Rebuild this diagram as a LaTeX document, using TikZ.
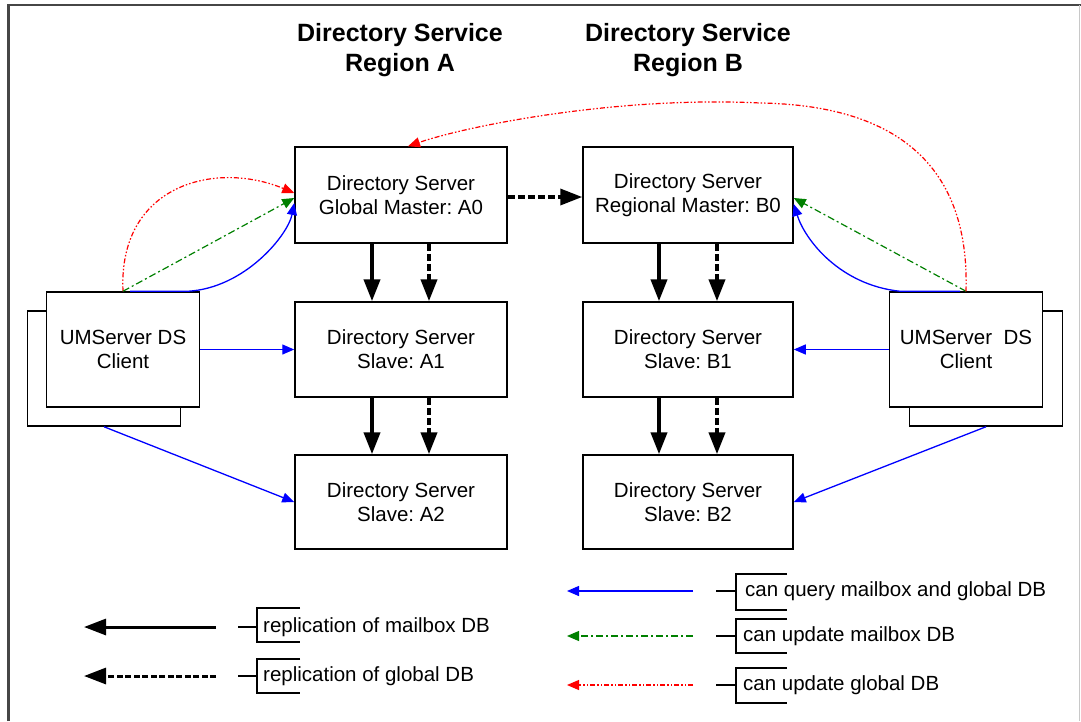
\documentclass[tikz,border=0pt]{standalone}
\usepackage{fontspec}
\setmainfont{Liberation Sans}
\usetikzlibrary{arrows.meta}
\definecolor{qblue}{RGB}{0,0,255}
\definecolor{ugreen}{RGB}{0,128,0}
\definecolor{ured}{RGB}{255,0,0}
\definecolor{framedark}{RGB}{70,70,70}
\definecolor{framelight}{RGB}{200,200,200}
\frenchspacing
\begin{document}
\begin{tikzpicture}[x=1pt,y=-1pt,
  font=\fontsize{20.5}{24}\selectfont,
  box/.style={draw=black, line width=1.5pt, fill=white, align=center, inner sep=0pt,
    minimum width=212pt, minimum height=95pt},
  client/.style={draw=black, line width=1.5pt, fill=white, align=center, inner sep=0pt,
    minimum width=153pt, minimum height=115pt},
  titletext/.style={font=\fontsize{25}{30}\selectfont\bfseries, align=center, inner sep=0pt},
  legtext/.style={anchor=west, inner sep=0pt},
  bracket/.style={draw=black, line width=1.3pt},
  solidrep/.style={draw=black, line width=4pt, -{Triangle[length=22pt,width=16pt]}},
  dashrep/.style={solidrep, dash pattern=on 7pt off 3pt},
  query/.style={draw=qblue, line width=1.3pt, -{Triangle[length=12pt,width=10pt]}},
  updmb/.style={draw=ugreen, line width=1.2pt, dash pattern=on 7pt off 3pt on 2pt off 3pt,
    -{Triangle[length=12pt,width=10pt]}},
  updgl/.style={draw=ured, line width=1.2pt,
    dash pattern=on 5pt off 2pt on 1.5pt off 2pt on 1.5pt off 2pt,
    -{Triangle[length=12pt,width=10pt]}}
]
\useasboundingbox (0,0) rectangle (1081,721);
% frame
\draw[draw=framedark, line width=2.5pt] (8.5,721) -- (8.5,5) -- (1081,5);
\draw[draw=framelight, line width=1.5pt] (1079.5,5) -- (1079.5,721);

% titles
\node[titletext] (tA) at (400,50) {Directory Service\\Region A};
\node[titletext] (tB) at (688,50) {Directory Service\\Region B};

% server boxes
\node[box, minimum height=96pt] (A0) at (401,195) {Directory Server\\Global Master: A0};
\node[box, minimum width=210pt, minimum height=96pt] (B0) at (688,195) {Directory Server\\Regional Master: B0};
\node[box] (A1) at (401,349.5) {Directory Server\\Slave: A1};
\node[box, minimum width=210pt] (B1) at (688,349.5) {Directory Server\\Slave: B1};
\node[box, minimum height=94pt] (A2) at (401,502) {Directory Server\\Slave: A2};
\node[box, minimum width=210pt, minimum height=94pt] (B2) at (688,502) {Directory Server\\Slave: B2};

% clients
\node[client] (CLb) at (104,368.5) {};
\node[client] (CL) at (123,349.5) {UMServer DS\\Client};
\node[client] (CRb) at (986,368.5) {};
\node[client] (CR) at (966,349.5) {UMServer\ \ DS\\Client};

% replication arrows
\coordinate (xa1) at (372,0);
\coordinate (xa2) at (429,0);
\coordinate (xb1) at (659,0);
\coordinate (xb2) at (717,0);
\draw[solidrep] (A0.south -| xa1) -- (A1.north -| xa1);
\draw[dashrep] (A0.south -| xa2) -- (A1.north -| xa2);
\draw[solidrep] (A1.south -| xa1) -- (A2.north -| xa1);
\draw[dashrep] (A1.south -| xa2) -- (A2.north -| xa2);
\draw[solidrep] (B0.south -| xb1) -- (B1.north -| xb1);
\draw[dashrep] (B0.south -| xb2) -- (B1.north -| xb2);
\draw[solidrep] (B1.south -| xb1) -- (B2.north -| xb1);
\draw[dashrep] (B1.south -| xb2) -- (B2.north -| xb2);
\draw[dashrep, line width=3.5pt] ([yshift=-2pt]A0.east) -- ([yshift=-2pt]B0.west);

% query arrows
\draw[query] (CL.east) -- (A1.west);
\draw[query] (CR.west) -- (B1.east);
\draw[query] (CLb.south) -- (A2.west);
\draw[query] (CRb.south) -- (B2.east);

% left client to A0
\draw[updgl] (CL.north) .. controls (118,185) and (215,160) .. ([yshift=2pt]A0.west);
\draw[updmb] (CL.north) -- ([yshift=-3pt]A0.west);
\draw[query] ([xshift=7pt]CL.north) -- ([xshift=65pt]CL.north)
  .. controls (245,288) and (288,235) .. ([yshift=-8pt]A0.west);

% right client to B0 and A0
\draw[updmb] (CR.north) -- ([yshift=-3pt]B0.east);
\draw[query] ([xshift=-6pt]CR.north) -- ([xshift=-66pt]CR.north)
  .. controls (840,285) and (805,240) .. ([yshift=-9pt]B0.east);
\draw[updgl] (CR.north) .. controls (970,160) and (890,105) .. (760,103)
  .. controls (620,96) and (470,125) .. ([xshift=7pt]A0.north);

% legend left
\coordinate (L1s) at (216,627);
\coordinate (L1e) at (84,627);
\coordinate (L2s) at (216,676);
\coordinate (L2e) at (84,676);
\draw[solidrep, line width=3pt] (L1s) -- (L1e);
\draw[dashrep, line width=3pt, dash pattern=on 6pt off 2.5pt] (L2s) -- (L2e);
\draw[bracket] (238,627) -- (257,627) (300,608) -- (257,608) -- (257,642) -- (300,642);
\draw[bracket] (238,676) -- (257,676) (300,659) -- (257,659) -- (257,693) -- (300,693);
\node[legtext] (T1) at (263,627) {replication of mailbox DB};
\node[legtext] (T2) at (263,676) {replication of global DB};

% legend right
\coordinate (R1s) at (693,591);
\coordinate (R1e) at (567,591);
\coordinate (R2s) at (693,636);
\coordinate (R2e) at (567,636);
\coordinate (R3s) at (693,685);
\coordinate (R3e) at (567,685);
\draw[query] (R1s) -- (R1e);
\draw[updmb] (R2s) -- (R2e);
\draw[updgl] (R3s) -- (R3e);
\draw[bracket] (716,591) -- (736,591) (787,574) -- (736,574) -- (736,610) -- (787,610);
\draw[bracket] (716,636) -- (736,636) (787,619) -- (736,619) -- (736,653) -- (787,653);
\draw[bracket] (716,685) -- (736,685) (787,668) -- (736,668) -- (736,703) -- (787,703);
\node[legtext] (T3) at (745,591) {can query mailbox and global DB};
\node[legtext] (T4) at (743,636) {can update mailbox DB};
\node[legtext] (T5) at (743,685) {can update global DB};
\end{tikzpicture}
\end{document}
